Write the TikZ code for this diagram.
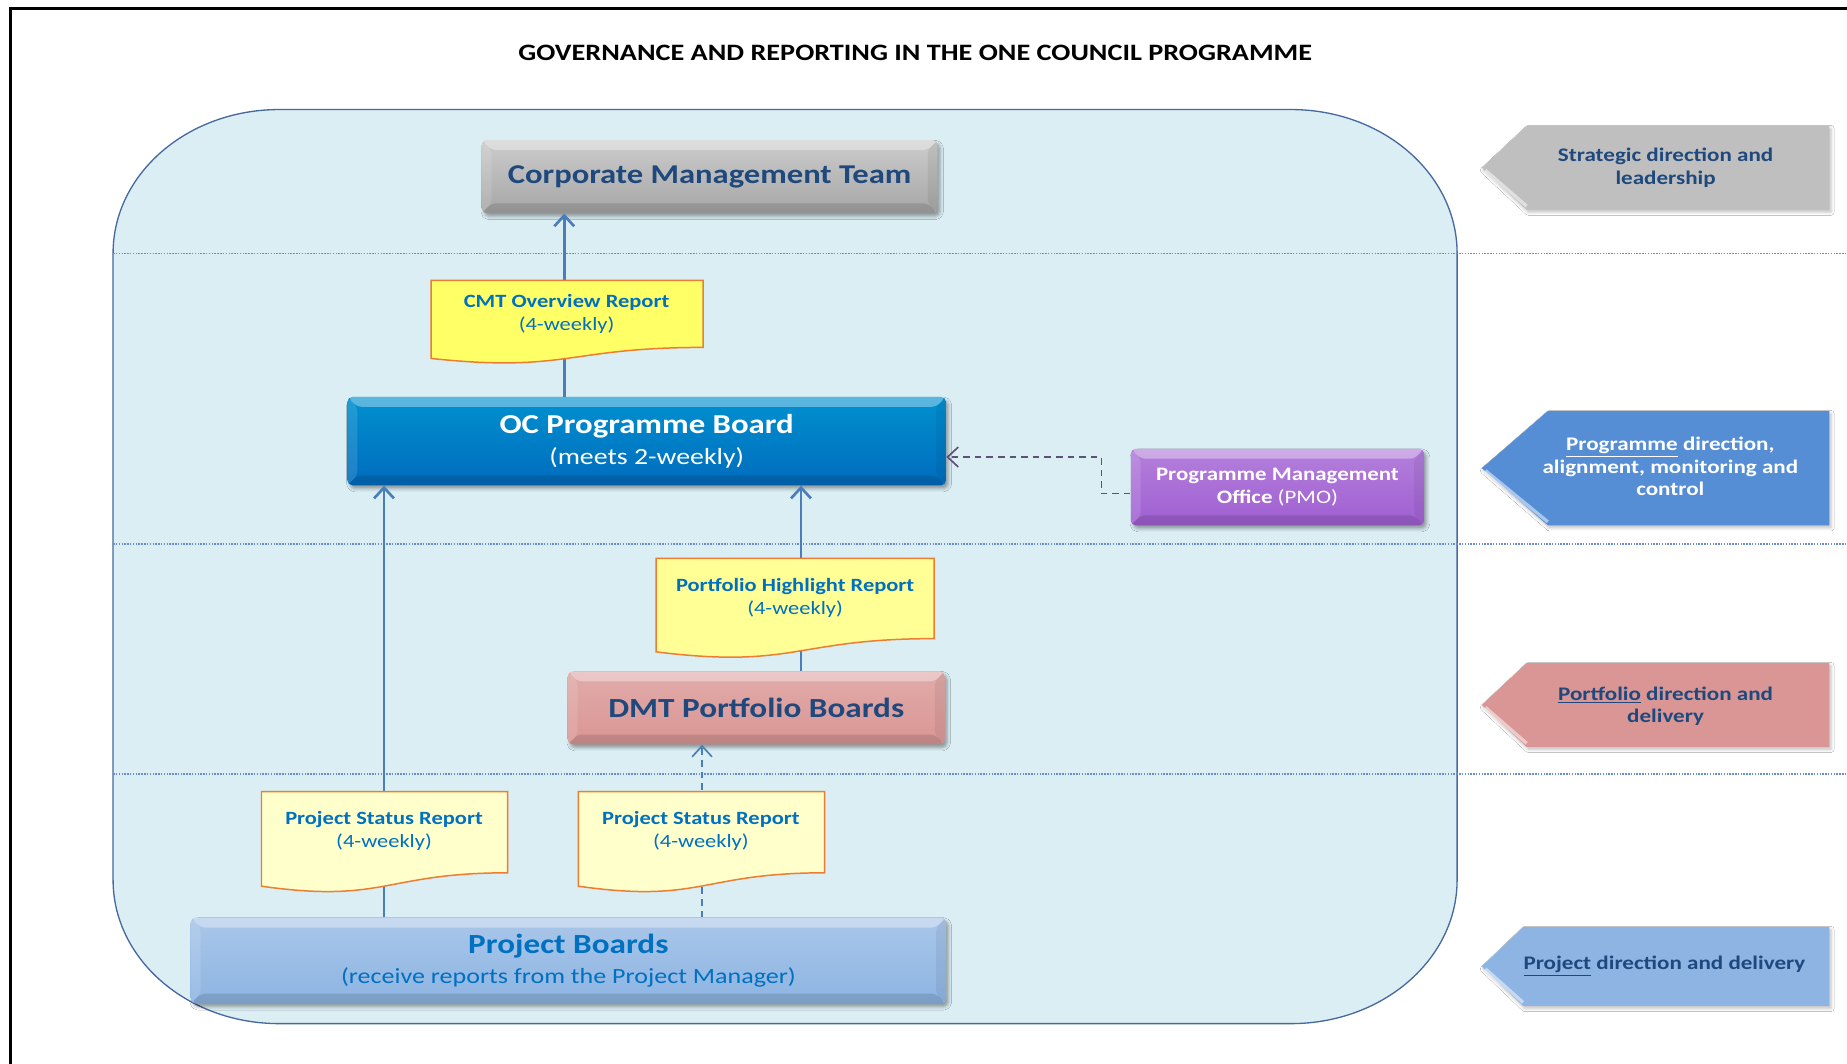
\documentclass[tikz,border=0pt]{standalone}
\usepackage{fontspec}
\setmainfont{Carlito}[FakeStretch=1.2]
\usetikzlibrary{arrows.meta,shadows.blur}

\definecolor{lanefill}{RGB}{219,238,244}
\definecolor{laneedge}{RGB}{70,105,160}
\definecolor{lanedot}{RGB}{105,140,205}
\definecolor{linkblue}{RGB}{74,126,187}
\definecolor{pmolink}{RGB}{95,80,120}
\definecolor{navytext}{RGB}{31,73,125}
\definecolor{reptext}{RGB}{0,112,192}
\definecolor{repedge}{RGB}{237,125,49}
\definecolor{repyellow}{RGB}{255,255,102}
\definecolor{repmid}{RGB}{255,255,150}
\definecolor{replight}{RGB}{255,255,204}
\definecolor{cmtgray}{RGB}{166,166,166}
\definecolor{ocblue}{RGB}{0,108,190}
\definecolor{pmopurple}{RGB}{160,95,210}
\definecolor{dmtpink}{RGB}{217,150,148}
\definecolor{pbblue}{RGB}{141,180,226}
\definecolor{lvlblue}{RGB}{85,142,213}
\definecolor{lvlgray}{RGB}{191,191,191}

% light top edge, dark bottom edge
\newcommand\bevelbands{%
  \fill[white,opacity=0.35] (path picture bounding box.north west) -- (path picture bounding box.north east)
    -- ([xshift=-6pt,yshift=-6pt]path picture bounding box.north east)
    -- ([xshift=6pt,yshift=-6pt]path picture bounding box.north west) -- cycle;
  \fill[black,opacity=0.12] (path picture bounding box.south west) -- (path picture bounding box.south east)
    -- ([xshift=-6pt,yshift=6pt]path picture bounding box.south east)
    -- ([xshift=6pt,yshift=6pt]path picture bounding box.south west) -- cycle;
  \fill[white,opacity=0.12] (path picture bounding box.north west) -- (path picture bounding box.south west)
    -- ([xshift=6pt,yshift=6pt]path picture bounding box.south west)
    -- ([xshift=6pt,yshift=-6pt]path picture bounding box.north west) -- cycle;
  \fill[black,opacity=0.06] (path picture bounding box.north east) -- (path picture bounding box.south east)
    -- ([xshift=-6pt,yshift=6pt]path picture bounding box.south east)
    -- ([xshift=-6pt,yshift=-6pt]path picture bounding box.north east) -- cycle;
}

% report sheet: left x, right x, top y, height, fill
\newcommand\reportsheet[5]{%
  \filldraw[draw=repedge, line width=0.9pt, fill=#5]
    (#1,#3) -- (#2,#3) -- (#2,{#3-0.802*#4})
    .. controls ({(#1+#2)/2},{#3-0.802*#4}) and ({(#1+#2)/2},{#3-1.107*#4}) .. (#1,{#3-0.934*#4}) -- cycle;
}

% level tag on the right: top y, bottom y, tip depth, fill
\newcommand\leveltag[4]{%
  \fill[#4, blur shadow={shadow xshift=1pt, shadow yshift=-1.5pt, shadow opacity=25}]
    (1553,#1) -- (1553,#2) -- (1258+#3,#2) -- (1258,{(#1+#2)/2}) -- (1258+#3,#1) -- cycle;
  \draw[white, opacity=0.5, line width=2pt] (1261,{(#1+#2)/2-2}) -- (1258+#3,#2+3);
}

\begin{document}
\begin{tikzpicture}[x=0.025cm, y=0.025cm, >={Straight Barb[length=6.5pt,width=12pt]},
  board/.style={rounded corners=3pt, inner sep=0pt, align=center,
    blur shadow={shadow xshift=1.5pt, shadow yshift=-2pt, shadow opacity=35},
    path picture={\bevelbands}},
  flow/.style={->, line width=1.6pt, linkblue},
  reptxt/.style={align=center, text=reptext, font=\fontsize{11.3}{13.5}\selectfont},
  lvltxt/.style={align=center, text=navytext, font=\fontsize{11.6}{13.5}\selectfont\bfseries}]

\clip (0,0) rectangle (1568,903);
\fill[white] (0,0) rectangle (1568,903);

% outer frame
\draw[line width=1.6pt] (9,-20) -- (9,896) -- (1600,896);

\node (title) at (777,858) {\fontsize{14.2}{17}\selectfont\bfseries GOVERNANCE AND REPORTING IN THE ONE COUNCIL PROGRAMME};

% programme area
\filldraw[fill=lanefill, draw=laneedge, line width=0.8pt]
  (237,810) -- (1096,810) arc[start angle=90, end angle=0, x radius=141, y radius=122]
  -- (1237,156) arc[start angle=0, end angle=-90, x radius=141, y radius=122]
  -- (237,34) arc[start angle=270, end angle=180, x radius=141, y radius=122]
  -- (96,688) arc[start angle=180, end angle=90, x radius=141, y radius=122] -- cycle;

\foreach \yl in {688,441,246}
  \draw[lanedot, line width=0.9pt, dash pattern=on 0.9pt off 0.8pt] (96,\yl) -- (1568,\yl);

% boards
\node[board, top color=lvlgray!80!white, bottom color=cmtgray, minimum width=9.675cm, minimum height=1.55cm,
  text=navytext, font=\fontsize{16.4}{20}\selectfont\bfseries] (cmt) at (602.5,753) {Corporate Management Team};
\node[board, top color=ocblue!75!cyan, bottom color=ocblue, minimum width=12.7cm, minimum height=1.875cm,
  text=white, font=\fontsize{14}{19}\selectfont] (oc) at (549,528.5)
  {{\fontsize{16.5}{19}\selectfont\bfseries OC Programme Board}\\(meets 2-weekly)};
\node[board, top color=pmopurple!80!white, bottom color=pmopurple, minimum width=6.225cm, minimum height=1.625cm,
  text=white, font=\fontsize{11.5}{13.5}\selectfont] (pmo) at (1084.5,489.5)
  {\bfseries Programme Management\\\bfseries Office {\mdseries (PMO)}};
\node[board, top color=dmtpink!80!white, bottom color=dmtpink, minimum width=8cm, minimum height=1.55cm,
  text=navytext, font=\fontsize{16.7}{18}\selectfont\bfseries] (dmt) at (642,302) {DMT Portfolio Boards};
\node[board, top color=pbblue!75!white, bottom color=pbblue, minimum width=16.025cm, minimum height=1.825cm,
  text=reptext, font=\fontsize{13.1}{18.5}\selectfont] (pb) at (482.5,87.5)
  {{\fontsize{16.7}{18.5}\selectfont\bfseries Project Boards}\\(receive reports from the Project Manager)};

% reporting lines
\draw[flow] (oc.north -| 479,0) -- (cmt.south -| 479,0);
\draw[flow] (dmt.north -| 680,0) -- (oc.south -| 680,0);
\draw[flow] (pb.north -| 326,0) -- (oc.south -| 326,0);
\draw[flow, line width=1pt, dash pattern=on 4pt off 3pt] (pb.north -| 596,0) -- (dmt.south -| 596,0);
\draw[->, pmolink, line width=1pt, dash pattern=on 4pt off 3pt] (pmo.west |- 0,484) -| (935,515) -- (oc.east |- 0,515);

% reports
\reportsheet{366}{597}{665}{71}{repyellow}
\node[reptxt] (cmtrep) at (481,636.5) {\bfseries CMT Overview Report\\(4-weekly)};
\reportsheet{557}{793}{429}{85}{repmid}
\node[reptxt] (phrep) at (675,395.5) {\bfseries Portfolio Highlight Report\\(4-weekly)};
\reportsheet{222}{431}{231}{86}{replight}
\node[reptxt] (psrA) at (326,197.5) {\bfseries Project Status Report\\(4-weekly)};
\reportsheet{491}{700}{231}{86}{replight}
\node[reptxt] (psrB) at (595,197.5) {\bfseries Project Status Report\\(4-weekly)};

% levels
\leveltag{796}{725}{38}{lvlgray}
\node[lvltxt] (lvlA) at (1414,760.5) {Strategic direction and\\leadership};
\leveltag{554}{457}{56}{lvlblue}
\node[lvltxt, text=white] (lvlB) at (1418,507) {\underline{Programme} direction,\\alignment, monitoring and\\control};
\leveltag{340}{269}{38}{dmtpink}
\node[lvltxt] (lvlC) at (1414,303.5) {\underline{Portfolio} direction and\\delivery};
\leveltag{116}{49}{35}{pbblue}
\node[lvltxt] (lvlD) at (1413,83) {\underline{Project} direction and delivery};

\end{tikzpicture}
\end{document}
